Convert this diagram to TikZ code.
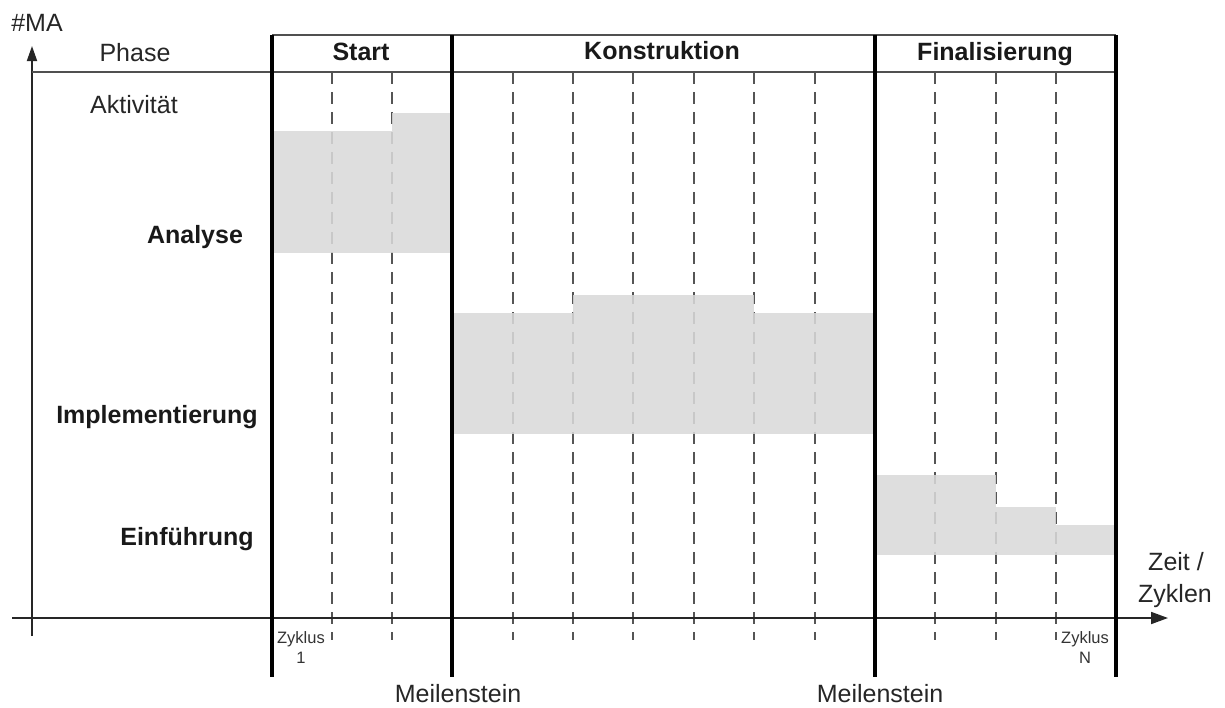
\documentclass[tikz,border=0pt]{standalone}
\usepackage{fontspec}
\setmainfont{Liberation Sans}
\usetikzlibrary{arrows.meta}
\definecolor{barfill}{RGB}{217,217,217}
\definecolor{axisgray}{RGB}{80,80,80}
\definecolor{dashgray}{RGB}{85,85,85}
\tikzset{
  px/.style={x=1pt,y=-1pt},
  axisline/.style={draw=axisgray,line width=1.8pt},
  milestone/.style={draw=black,line width=3.6pt},
  cycle/.style={draw=dashgray,line width=1.5pt,dash pattern=on 12pt off 8pt},
  bar/.style={fill=barfill,fill opacity=0.88,draw=none},
  lbl/.style={font=\fontsize{25}{28}\selectfont,inner sep=0pt,anchor=base,text=black!85},
  act/.style={font=\bfseries\fontsize{25}{28}\selectfont,inner sep=0pt,anchor=base,text=black!90},
  small/.style={font=\fontsize{16.5}{19}\selectfont,inner sep=0pt,anchor=base,text=black!80},
}
\begin{document}
\begin{tikzpicture}[px]
\useasboundingbox (0,0) rectangle (1225,707);
% ends of the milestone lines
\coordinate (ms0top) at (272,35);  \coordinate (ms0bot) at (272,677);
\coordinate (ms1top) at (452,35);  \coordinate (ms1bot) at (452,677);
\coordinate (ms2top) at (875,35);  \coordinate (ms2bot) at (875,677);
\coordinate (ms3top) at (1116,35); \coordinate (ms3bot) at (1116,677);
% cycle separators
\foreach \x in {332,392,513,573,633,694,754,815,935,996,1056}{
  \draw[cycle] (\x,72) -- (\x,640);
}
% activity bars
\fill[bar] (272,131) rectangle (392,253);
\fill[bar] (392,113) rectangle (452,253);
\fill[bar] (452,313) rectangle (573,434);
\fill[bar] (573,295) rectangle (754,434);
\fill[bar] (754,313) rectangle (875,434);
\fill[bar] (875,475) rectangle (996,555);
\fill[bar] (996,507) rectangle (1056,555);
\fill[bar] (1056,525) rectangle (1116,555);
% axes
\coordinate (yfoot) at (32,636);
\coordinate (ytip) at (32,46);
\coordinate (xfoot) at (12,618);
\coordinate (xtip) at (1168,618);
\draw[axisline,draw=black!85,-{Triangle[length=15pt,width=10pt]}] (yfoot) -- (ytip);
\draw[axisline,draw=black!85,-{Triangle[length=17pt,width=12pt]}] (xfoot) -- (xtip);
% header lines
\coordinate (hl) at (32,72);
\coordinate (hr) at (1116,72);
\draw[axisline] (hl) -- (hr);
\draw[axisline] (ms0top) -- (ms3top);
% milestones
\draw[milestone] (ms0top) -- (ms0bot);
\draw[milestone] (ms1top) -- (ms1bot);
\draw[milestone] (ms2top) -- (ms2bot);
\draw[milestone] (ms3top) -- (ms3bot);
% texts
\node[lbl] (ma) at (37,31) {\#MA};
\node[lbl] (phase) at (135,61) {Phase};
\node[lbl] (aktiv) at (134,113) {Aktivität};
\node[act] (start) at (361,60) {Start};
\node[act] (konst) at (662,59) {Konstruktion};
\node[act] (final) at (995,60) {Finalisierung};
\node[act] (ana) at (195,243) {Analyse};
\node[act] (impl) at (157,423) {Implementierung};
\node[act] (einf) at (187,545) {Einführung};
\node[small] (z1) at (301,643) {Zyklus};
\node[small] (z1n) at (301,663) {1};
\node[small] (zn) at (1085,643) {Zyklus};
\node[small] (znn) at (1085,663) {N};
\node[lbl] (m1) at (458,702) {Meilenstein};
\node[lbl] (m2) at (880,702) {Meilenstein};
\node[lbl] (zeit) at (1176,570) {Zeit /};
\node[lbl] (zykl) at (1175,602) {Zyklen};
\end{tikzpicture}
\end{document}
